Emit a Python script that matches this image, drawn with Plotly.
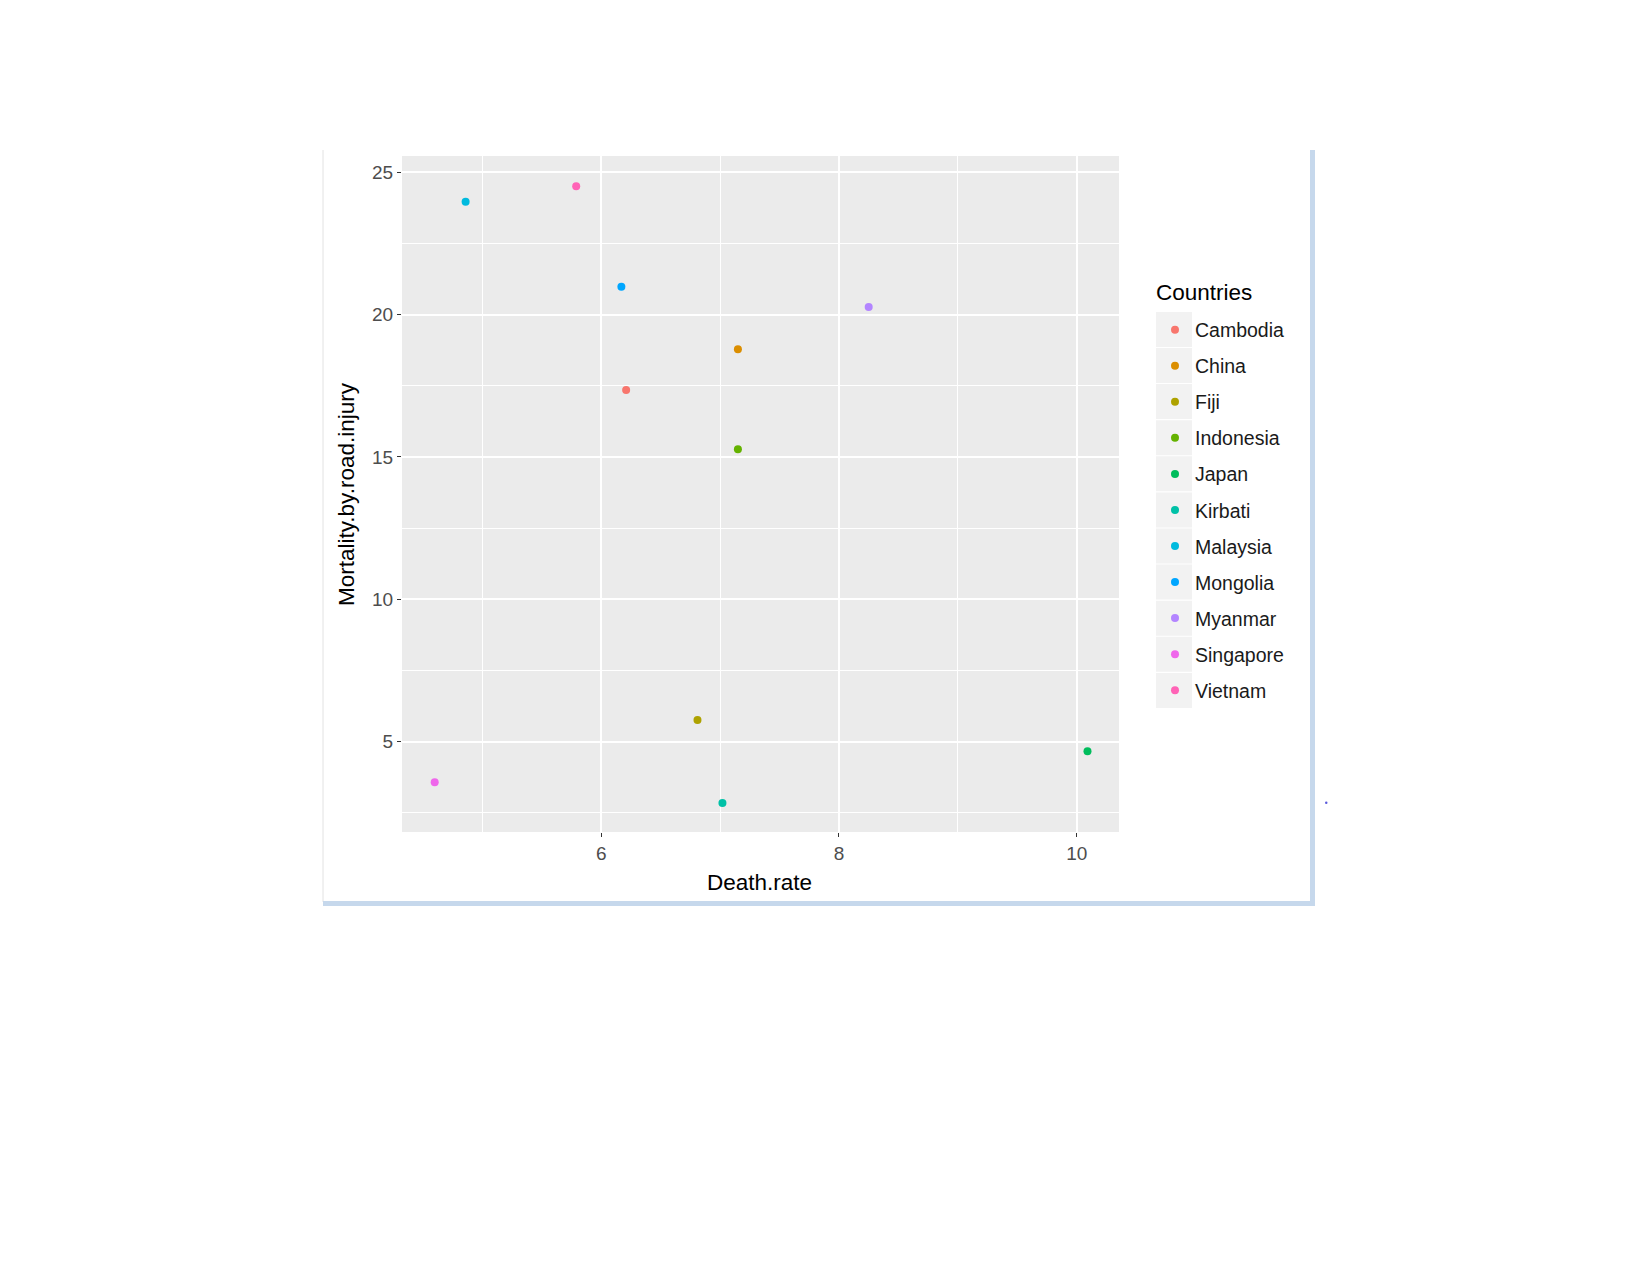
import plotly.graph_objects as go

# ---- data ----
countries = ["Cambodia", "China", "Fiji", "Indonesia", "Japan", "Kirbati",
             "Malaysia", "Mongolia", "Myanmar", "Singapore", "Vietnam"]
death_rate = [6.21, 7.15, 6.81, 7.15, 10.09, 7.02, 4.86, 6.17, 8.25, 4.60, 5.79]
mortality_road_injury = [17.35, 18.78, 5.76, 15.27, 4.66, 2.84, 23.96, 20.98, 20.27, 3.57, 24.51]
colors = ["#F8766D", "#DB8E00", "#AEA200", "#64B200", "#00BD5C", "#00C1A7",
          "#00BADE", "#00A6FF", "#B385FF", "#EF67EB", "#FF63B6"]
x_title = "Death.rate"
y_title = "Mortality.by.road.injury"
legend_title = "Countries"

# ---- layout geometry (pixels) ----
W, H = 1650, 1275
L, R, T, B = 402, 1119, 156, 832


def px(x):
    return (x - L) / (R - L)


def py(y):
    return (B - y) / (B - T)


FONT = "Liberation Sans, Arial, sans-serif"

fig = go.Figure()
for name, xv, yv, c in zip(countries, death_rate, mortality_road_injury, colors):
    fig.add_trace(go.Scatter(
        x=[xv], y=[yv], mode="markers", name=name, legendgroup=name,
        marker=dict(color=c, size=8, line=dict(width=0)),
    ))

shapes = []
# frame around the embedded chart
shapes.append(dict(type="line", xref="paper", yref="paper",
                   x0=px(323), x1=px(323), y0=py(150), y1=py(902),
                   line=dict(color="#E2E2E2", width=1)))
shapes.append(dict(type="rect", xref="paper", yref="paper",
                   x0=px(1310), x1=px(1315), y0=py(150), y1=py(906),
                   fillcolor="#C6D8EC", line=dict(width=0)))
shapes.append(dict(type="rect", xref="paper", yref="paper",
                   x0=px(323), x1=px(1315), y0=py(901), y1=py(906),
                   fillcolor="#C6D8EC", line=dict(width=0)))
shapes.append(dict(type="circle", xref="paper", yref="paper",
                   x0=px(1325), x1=px(1327.5), y0=py(801.5), y1=py(804),
                   fillcolor="#5A5ADC", line=dict(width=0)))
# legend key backgrounds
for i in range(len(countries)):
    cy = 329.4 + 36.1 * i
    shapes.append(dict(type="rect", xref="paper", yref="paper",
                       x0=px(1156), x1=px(1192), y0=py(cy - 17.5), y1=py(cy + 17.5),
                       fillcolor="#F2F2F2", line=dict(width=0), layer="below"))

annotations = [
    dict(text=x_title, xref="paper", yref="paper", x=px(759), y=py(882),
         xanchor="center", yanchor="middle", showarrow=False,
         font=dict(family=FONT, size=22.5, color="#000000")),
    dict(text=y_title, xref="paper", yref="paper", x=px(346), y=py(494),
         xanchor="center", yanchor="middle", showarrow=False, textangle=-90,
         font=dict(family=FONT, size=22.5, color="#000000")),
    dict(text=legend_title, xref="paper", yref="paper", x=px(1154), y=py(292.5),
         xanchor="left", yanchor="middle", showarrow=False,
         font=dict(family=FONT, size=22.5, color="#000000")),
]

axis_common = dict(
    showgrid=True, gridcolor="#FFFFFF", gridwidth=1.6,
    zeroline=False, showline=False,
    ticks="outside", ticklen=4, tickwidth=1.2, tickcolor="#333333",
    tickfont=dict(family=FONT, size=19, color="#4D4D4D"),
)

fig.update_layout(
    width=W, height=H,
    margin=dict(l=L, r=W - R, t=T, b=H - B, pad=0),
    paper_bgcolor="#FFFFFF", plot_bgcolor="#EBEBEB",
    font=dict(family=FONT),
    xaxis=dict(range=[4.325, 10.355], tickmode="linear", tick0=0, dtick=2,
               minor=dict(dtick=1, tick0=0, showgrid=True, gridcolor="#FFFFFF",
                          gridwidth=0.8, ticks=""),
               **axis_common),
    yaxis=dict(range=[1.825, 25.57], tickmode="linear", tick0=0, dtick=5,
               minor=dict(dtick=2.5, tick0=0, showgrid=True, gridcolor="#FFFFFF",
                          gridwidth=0.8, ticks=""),
               **axis_common),
    legend=dict(
        font=dict(family=FONT, size=19.5, color="#1A1A1A"),
        x=px(1155), y=py(310.5), xanchor="left", yanchor="top",
        bgcolor="rgba(0,0,0,0)", borderwidth=0,
        tracegroupgap=7.7, traceorder="grouped",
    ),
    shapes=shapes,
    annotations=annotations,
    showlegend=True,
)

fig.write_html("out.html")
